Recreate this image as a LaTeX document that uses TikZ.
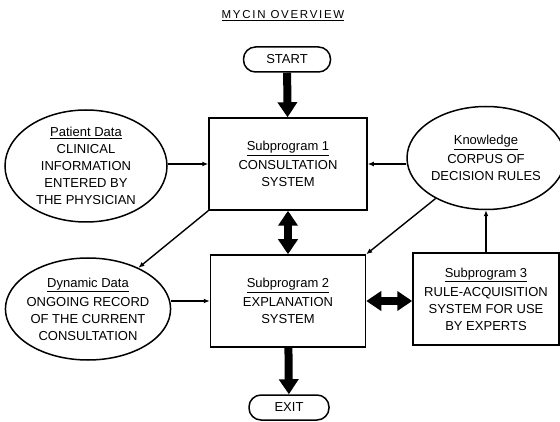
\documentclass[tikz,border=0pt]{standalone}
\usepackage{fontspec}
\setmainfont{Liberation Sans}
\usetikzlibrary{arrows.meta,shapes.geometric}

\tikzset{
    lbl/.style={font=\fontsize{13}{17}\selectfont, align=center},
    oval/.style={lbl, draw, ellipse, line width=1.5pt, inner sep=-3pt},
    prog/.style={lbl, draw, rectangle, line width=1.5pt, minimum height=92pt},
    term/.style={lbl, draw, rounded corners=12pt, line width=1.5pt, minimum height=25pt},
    flow/.style={line width=1.4pt, -{Latex[length=6pt,width=5pt]}},
    bigarrow/.style={line width=8pt, -{Triangle[length=15pt,width=19pt]}},
    bigboth/.style={line width=8pt, {Triangle[length=15pt,width=19pt]}-{Triangle[length=15pt,width=19pt]}}
}

\begin{document}
\begin{tikzpicture}[x=1pt, y=-1pt]
    \useasboundingbox (0,0) rectangle (560,422);

    \node[lbl, font=\fontsize{11.5}{14}\selectfont\addfontfeature{LetterSpace=15}] (t) at (283, 16) {\underline{MYCIN\ OVERVIEW}};
    \node[term, minimum width=87pt] (s) at (287, 59.5) {START};
    \node[term, minimum width=80pt] (e) at (289, 407.5) {EXIT};

    \node[prog, minimum width=158pt] (p1) at (288, 164) {\underline{Subprogram 1}\\[2pt]CONSULTATION\\SYSTEM};
    \node[prog, minimum width=155pt] (p2) at (288, 301) {\underline{Subprogram 2}\\[2pt]EXPLANATION\\SYSTEM};
    \node[prog, minimum width=146pt] (p3) at (486, 299) {\underline{Subprogram 3}\\[2pt]RULE-ACQUISITION\\SYSTEM FOR USE\\BY EXPERTS};

    \node[oval, minimum width=162pt, minimum height=112pt] (pd) at (86, 166) {\underline{Patient Data}\\CLINICAL\\INFORMATION\\ENTERED BY\\THE PHYSICIAN};
    \node[oval, minimum width=159pt, minimum height=102pt] (dd) at (88, 309) {\underline{Dynamic Data}\\[2pt]ONGOING RECORD\\OF THE CURRENT\\CONSULTATION};
    \node[oval, minimum width=158pt, minimum height=103pt] (kb) at (486, 158) {\underline{Knowledge}\\[2pt]CORPUS OF\\DECISION RULES};

    \draw [bigarrow] (s) -- (p1);
    \draw [bigboth] (p1) -- (p2);
    \draw [bigboth] (p2.east) -- (p2.east -| p3.west);
    \draw [bigarrow] (p2) -- (e);

    \draw [flow] (pd.east |- p1.west) -- (p1.west);
    \draw [flow] (kb.west |- p1.east) -- (p1.east);
    \draw [flow] (p1.south west) -- (dd);
    \draw [flow] (dd.east |- p2.west) -- (p2.west);
    \draw [flow] (kb) -- (p2.north east);
    \draw [flow] (p3.north) -- (p3.north |- kb.south);

\end{tikzpicture}
\end{document}
